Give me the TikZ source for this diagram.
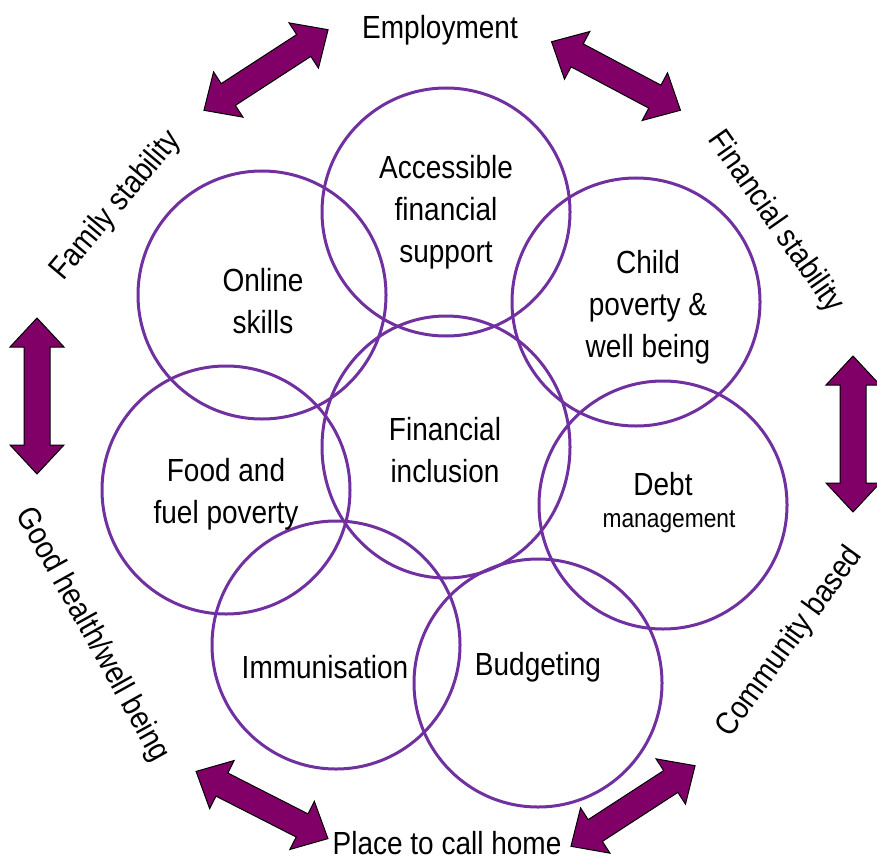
\documentclass[tikz,border=0pt]{standalone}
\usepackage{fontspec}
\setmainfont{Liberation Sans}[FakeStretch=0.875]
\definecolor{ring}{RGB}{112,48,160}
\definecolor{arrfill}{RGB}{128,0,104}
\newcommand\dblarr[4]{%
  \begin{scope}[shift={(#1,#2)},rotate=#3]
    \draw[arrshape] (-#4,0) -- (-#4+29,27) -- (-#4+29,13) -- (#4-29,13) -- (#4-29,27) -- (#4,0)
      -- (#4-29,-27) -- (#4-29,-13) -- (-#4+29,-13) -- (-#4+29,-27) -- cycle;
  \end{scope}}
\begin{document}
\begin{tikzpicture}[x=1pt,y=-1pt,
  circ/.style={circle,draw=ring,line width=3pt,minimum size=248pt,inner sep=0pt},
  lbl/.style={font=\fontsize{32}{42}\selectfont,align=center,inner sep=0pt},
  small/.style={font=\fontsize{26}{30}\selectfont,inner sep=0pt},
  arrshape/.style={fill=arrfill,draw=black,line width=1pt,line join=miter}]
\useasboundingbox (0,0) rectangle (877,861);
% circles
\node[circ] (cacc) at (446,212) {};
\node[circ] (conl) at (262,295) {};
\node[circ] (cchi) at (636,302) {};
\draw[ring,line width=3pt] (446,447) ellipse [x radius=124, y radius=131];
\coordinate (cfin) at (446,447);
\node[circ] (cfoo) at (226,490) {};
\node[circ] (cdeb) at (663,505) {};
\node[circ] (cimm) at (336,645) {};
\node[circ] (cbud) at (538,683) {};
% circle texts
\node[lbl] (tacc) at (446,212) {Accessible\\financial\\support};
\node[lbl] (tonl) at (263,301) {Online\\skills};
\node[lbl] (tchi) at (648,307) {Child\\poverty \&\\well being};
\node[lbl] (tfin) at (445,450) {Financial\\inclusion};
\node[lbl] (tfoo) at (226,494) {Food and\\fuel poverty};
\node[lbl] (tdeb) at (663,484) {Debt};
\node[small] (tman) at (669,522) {management};
\node[lbl] (timm) at (325,667) {Immunisation};
\node[lbl] (tbud) at (538,667) {Budgeting};
% outer labels
\node[lbl] (emp) at (440,30) {Employment};
\node[lbl] (home) at (447,843) {Place to call home};
\node[lbl,rotate=50] (fam) at (116,206) {Family stability};
\node[lbl,rotate=-55] (fins) at (775,222) {Financial stability};
\node[lbl,rotate=-61] (heal) at (92,635) {Good health/well being};
\node[lbl,rotate=54] (comm) at (790,642) {Community based};
% arrows
\dblarr{266}{70}{33}{74}
\dblarr{616}{76}{-28}{73}
\dblarr{37}{396}{90}{78}
\dblarr{853}{434}{90}{78}
\dblarr{262}{805}{-27}{74}
\dblarr{633}{806}{33}{74}
\end{tikzpicture}
\end{document}
